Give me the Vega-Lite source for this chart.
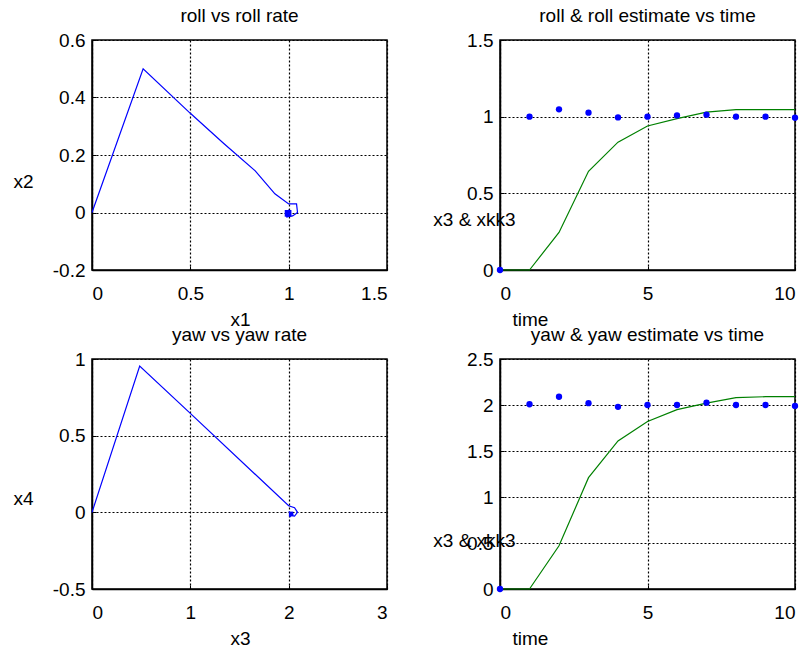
{
  "$schema": "https://vega.github.io/schema/vega-lite/v6.json",
  "padding": {"left": 12, "top": 6, "right": 5, "bottom": 5},
  "background": "white",
  "columns": 2,
  "bounds": "flush",
  "spacing": {"row": 89, "column": 113},
  "datasets": {
    "roll_phase": [
      {"i": 0, "x1": 0, "x2": 0},
      {"i": 1, "x1": 0.26, "x2": 0.5},
      {"i": 2, "x1": 0.5, "x2": 0.345},
      {"i": 3, "x1": 0.67, "x2": 0.24},
      {"i": 4, "x1": 0.83, "x2": 0.145},
      {"i": 5, "x1": 0.93, "x2": 0.065},
      {"i": 6, "x1": 1.0, "x2": 0.03},
      {"i": 7, "x1": 1.04, "x2": 0.03},
      {"i": 8, "x1": 1.045, "x2": 0.0},
      {"i": 9, "x1": 1.02, "x2": -0.012},
      {"i": 10, "x1": 0.99, "x2": -0.015},
      {"i": 11, "x1": 1.0, "x2": 0.01},
      {"i": 12, "x1": 0.995, "x2": -0.017},
      {"i": 13, "x1": 1.005, "x2": 0.005},
      {"i": 14, "x1": 0.99, "x2": -0.01},
      {"i": 15, "x1": 1.0, "x2": 0.0}
    ],
    "roll_end": [{"x1": 0.997, "x2": -0.003}],
    "yaw_phase": [
      {"i": 0, "x3": 0, "x4": 0},
      {"i": 1, "x3": 0.485, "x4": 0.954},
      {"i": 2, "x3": 1.0, "x4": 0.645},
      {"i": 3, "x3": 2.0, "x4": 0.043},
      {"i": 4, "x3": 2.06, "x4": 0.03},
      {"i": 5, "x3": 2.09, "x4": 0.0},
      {"i": 6, "x3": 2.06, "x4": -0.025},
      {"i": 7, "x3": 2.02, "x4": -0.02},
      {"i": 8, "x3": 2.01, "x4": 0.0},
      {"i": 9, "x3": 2.04, "x4": -0.015},
      {"i": 10, "x3": 2.01, "x4": -0.03},
      {"i": 11, "x3": 2.03, "x4": 0.0}
    ],
    "yaw_end": [{"x3": 2.025, "x4": -0.01}],
    "roll_time": [
      {"time": 0, "x3": 0, "xkk3": 0},
      {"time": 1, "x3": 0, "xkk3": 1.0},
      {"time": 2, "x3": 0.245, "xkk3": 1.048},
      {"time": 3, "x3": 0.644, "xkk3": 1.026},
      {"time": 4, "x3": 0.834, "xkk3": 0.995},
      {"time": 5, "x3": 0.939, "xkk3": 1.0},
      {"time": 6, "x3": 0.987, "xkk3": 1.008},
      {"time": 7, "x3": 1.03, "xkk3": 1.013},
      {"time": 8, "x3": 1.046, "xkk3": 1.0},
      {"time": 9, "x3": 1.046, "xkk3": 1.0},
      {"time": 10, "x3": 1.046, "xkk3": 0.993}
    ],
    "yaw_time": [
      {"time": 0, "x3": 0, "xkk3": 0},
      {"time": 1, "x3": 0, "xkk3": 2.008},
      {"time": 2, "x3": 0.47, "xkk3": 2.09},
      {"time": 3, "x3": 1.21, "xkk3": 2.02},
      {"time": 4, "x3": 1.61, "xkk3": 1.98},
      {"time": 5, "x3": 1.82, "xkk3": 2.0},
      {"time": 6, "x3": 1.95, "xkk3": 2.0},
      {"time": 7, "x3": 2.02, "xkk3": 2.025},
      {"time": 8, "x3": 2.08, "xkk3": 2.0},
      {"time": 9, "x3": 2.09, "xkk3": 2.0},
      {"time": 10, "x3": 2.09, "xkk3": 1.99}
    ]
  },
  "concat": [
    {
      "title": "roll vs roll rate",
      "width": 295,
      "height": 230,
      "encoding": {
        "x": {"field": "x1", "type": "quantitative", "scale": {"domain": [0, 1.5], "nice": false, "zero": false},
              "axis": {"values": [0, 0.5, 1, 1.5], "title": "x1", "titleX": 148, "titleY": 49}},
        "y": {"field": "x2", "type": "quantitative", "scale": {"domain": [-0.2, 0.6], "nice": false, "zero": false},
              "axis": {"values": [-0.2, 0, 0.2, 0.4, 0.6], "title": "x2", "titleX": -69, "titleY": 141}}
      },
      "layer": [
        {
          "data": {"name": "roll_phase"},
          "mark": {"type": "line", "color": "#0000ff", "strokeWidth": 1.2},
          "encoding": {"order": {"field": "i", "type": "quantitative"}}
        },
        {
          "data": {"name": "roll_end"},
          "mark": {"type": "point", "shape": "square", "filled": true, "color": "#0000ff", "opacity": 1, "size": 45}
        }
      ]
    },
    {
      "title": "roll & roll estimate vs time",
      "width": 295,
      "height": 230,
      "data": {"name": "roll_time"},
      "encoding": {
        "x": {"field": "time", "type": "quantitative", "scale": {"domain": [0, 10], "nice": false, "zero": false},
              "axis": {"values": [0, 5, 10], "title": "time", "titleX": 30, "titleY": 49}}
      },
      "layer": [
        {
          "mark": {"type": "line", "color": "#008000", "strokeWidth": 1.2},
          "encoding": {
            "y": {"field": "x3", "type": "quantitative", "scale": {"domain": [0, 1.5], "nice": false, "zero": false},
                  "axis": {"values": [0, 0.5, 1, 1.5], "title": "x3 & xkk3", "titleX": -26, "titleY": 179}}
          }
        },
        {
          "mark": {"type": "point", "filled": true, "color": "#0000ff", "opacity": 1, "size": 40},
          "encoding": {
            "y": {"field": "xkk3", "type": "quantitative"}
          }
        }
      ]
    },
    {
      "title": "yaw vs yaw rate",
      "width": 295,
      "height": 230,
      "encoding": {
        "x": {"field": "x3", "type": "quantitative", "scale": {"domain": [0, 3], "nice": false, "zero": false},
              "axis": {"values": [0, 1, 2, 3], "title": "x3", "titleX": 148, "titleY": 49}},
        "y": {"field": "x4", "type": "quantitative", "scale": {"domain": [-0.5, 1], "nice": false, "zero": false},
              "axis": {"values": [-0.5, 0, 0.5, 1], "title": "x4", "titleX": -69, "titleY": 139}}
      },
      "layer": [
        {
          "data": {"name": "yaw_phase"},
          "mark": {"type": "line", "color": "#0000ff", "strokeWidth": 1.2},
          "encoding": {"order": {"field": "i", "type": "quantitative"}}
        },
        {
          "data": {"name": "yaw_end"},
          "mark": {"type": "point", "shape": "square", "filled": true, "color": "#0000ff", "opacity": 1, "size": 20}
        }
      ]
    },
    {
      "title": "yaw & yaw estimate vs time",
      "width": 295,
      "height": 230,
      "data": {"name": "yaw_time"},
      "encoding": {
        "x": {"field": "time", "type": "quantitative", "scale": {"domain": [0, 10], "nice": false, "zero": false},
              "axis": {"values": [0, 5, 10], "title": "time", "titleX": 30, "titleY": 49}}
      },
      "layer": [
        {
          "mark": {"type": "line", "color": "#008000", "strokeWidth": 1.2},
          "encoding": {
            "y": {"field": "x3", "type": "quantitative", "scale": {"domain": [0, 2.5], "nice": false, "zero": false},
                  "axis": {"values": [0, 0.5, 1, 1.5, 2, 2.5], "title": "x3 & xkk3", "titleX": -26, "titleY": 181}}
          }
        },
        {
          "mark": {"type": "point", "filled": true, "color": "#0000ff", "opacity": 1, "size": 40},
          "encoding": {
            "y": {"field": "xkk3", "type": "quantitative"}
          }
        }
      ]
    }
  ],
  "config": {
    "font": "Liberation Sans",
    "view": {"stroke": "black", "strokeWidth": 1.5},
    "axis": {
      "grid": true,
      "gridColor": "black",
      "gridDash": [2, 2],
      "gridOpacity": 1,
      "gridWidth": 1.2,
      "domainColor": "black",
      "domainWidth": 1.5,
      "tickColor": "black",
      "tickSize": -4,
      "labelFontSize": 19,
      "labelColor": "black",
      "labelExpr": "'' + datum.value",
      "titleFontSize": 19,
      "titleFontWeight": "normal",
      "titleColor": "black",
      "titleAngle": 0,
      "titleAlign": "center",
      "titleBaseline": "middle"
    },
    "axisX": {"labelPadding": 18},
    "axisY": {"labelPadding": 11},
    "title": {"fontSize": 19, "fontWeight": "normal", "color": "black", "offset": 5, "anchor": "middle"}
  }
}
